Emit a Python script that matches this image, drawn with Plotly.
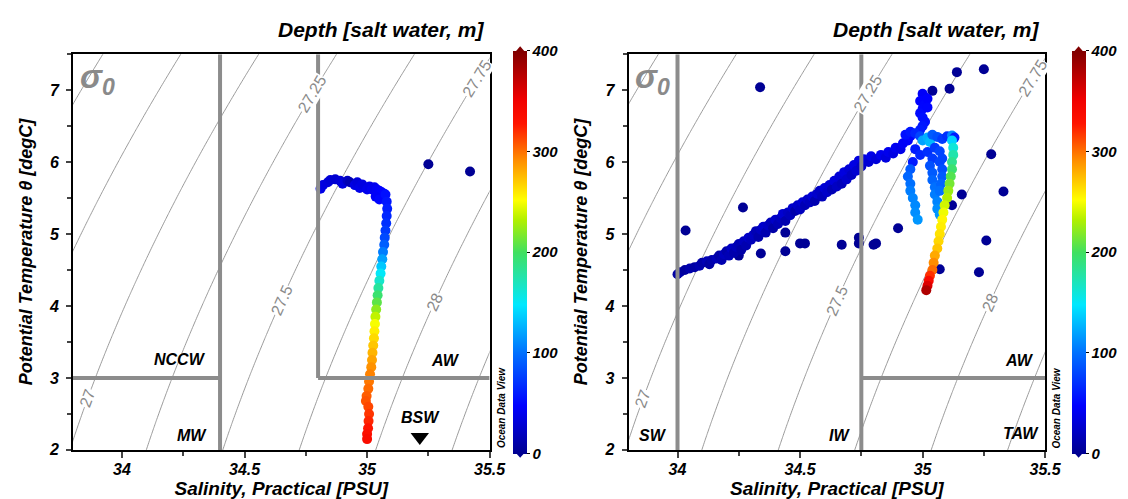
import numpy as np
import plotly.graph_objects as go

FONT = "Liberation Sans, Arial, sans-serif"
W, H = 1128, 499

# ---------------- left station: salinity, potential temperature, depth ----------------
left_top_sal = [34.81, 34.82, 34.84, 34.85, 34.87, 34.89, 34.90, 34.92, 34.93, 34.95, 34.96, 34.97,
                34.98, 35.00, 35.01, 35.02, 35.03, 35.04, 35.05, 35.06, 35.07, 35.035, 35.05]
left_top_temp = [5.63, 5.68, 5.72, 5.75, 5.76, 5.74, 5.70, 5.74, 5.72, 5.68, 5.72, 5.64,
                 5.69, 5.62, 5.66, 5.62, 5.65, 5.62, 5.60, 5.58, 5.56, 5.52, 5.48]
left_top_depth = [38, 35, 33, 30, 28, 30, 34, 22, 15, 36, 32, 38,
                  35, 40, 38, 42, 40, 44, 46, 48, 50, 45, 50]

left_prof_sal = [35.075, 35.08, 35.082, 35.08, 35.078, 35.075, 35.072, 35.07, 35.065, 35.062,
                 35.058, 35.055, 35.05, 35.046, 35.043, 35.04, 35.037, 35.034, 35.032, 35.03,
                 35.028, 35.025, 35.022, 35.02, 35.017, 35.012, 35.008, 35.005, 34.998, 34.995,
                 35.005, 35.008, 35.006, 35.004, 35.0, 35.0]
left_prof_temp = [5.55, 5.45, 5.35, 5.25, 5.15, 5.05, 4.95, 4.85, 4.75, 4.65,
                  4.55, 4.45, 4.35, 4.25, 4.15, 4.05, 3.95, 3.85, 3.75, 3.65,
                  3.55, 3.45, 3.35, 3.25, 3.15, 3.05, 2.95, 2.85, 2.75, 2.68,
                  2.60, 2.50, 2.40, 2.30, 2.22, 2.15]
left_prof_depth = [55, 58, 62, 66, 70, 75, 82, 92, 105, 120,
                   135, 150, 165, 180, 195, 208, 222, 236, 250, 258,
                   265, 272, 278, 284, 290, 295, 298, 302, 306, 309,
                   313, 318, 323, 328, 333, 338]

left_out_sal = [35.25, 35.42]
left_out_temp = [5.97, 5.87]
left_out_depth = [2, 2]

# ---------------- right station ----------------
right_band_sal = [34.00, 34.01, 34.03, 34.05, 34.07, 34.09, 34.10, 34.12, 34.13, 34.14, 34.16, 34.17,
                  34.18, 34.19, 34.20, 34.21, 34.22, 34.23, 34.24, 34.25, 34.26, 34.27, 34.28, 34.29,
                  34.30, 34.31, 34.32, 34.33, 34.34, 34.35, 34.36, 34.37, 34.38, 34.39, 34.40, 34.41,
                  34.42, 34.43, 34.44, 34.45, 34.46, 34.47, 34.48, 34.49, 34.50, 34.51, 34.52, 34.53,
                  34.54, 34.55, 34.56, 34.57, 34.58, 34.59, 34.60, 34.61, 34.62, 34.63, 34.64, 34.65,
                  34.66, 34.67, 34.68, 34.69, 34.70, 34.71, 34.72, 34.73, 34.74, 34.75, 34.76, 34.78,
                  34.79, 34.81, 34.83, 34.85, 34.86, 34.88, 34.89, 34.91, 34.92, 34.94, 34.95]
right_band_temp = [4.44, 4.47, 4.50, 4.52, 4.54, 4.56, 4.60, 4.62, 4.58, 4.64, 4.66, 4.70,
                   4.64, 4.72, 4.76, 4.70, 4.80, 4.74, 4.82, 4.86, 4.78, 4.90, 4.84, 4.95,
                   4.92, 4.99, 5.04, 4.96, 5.06, 5.10, 5.02, 5.12, 5.16, 5.08, 5.20, 5.14,
                   5.22, 5.28, 5.18, 5.30, 5.26, 5.36, 5.32, 5.40, 5.34, 5.44, 5.40, 5.48,
                   5.44, 5.52, 5.46, 5.56, 5.60, 5.52, 5.64, 5.58, 5.68, 5.62, 5.74, 5.66,
                   5.80, 5.70, 5.86, 5.76, 5.90, 5.82, 5.96, 5.88, 6.02, 5.94, 6.04, 6.00,
                   6.08, 6.04, 6.10, 6.06, 6.14, 6.12, 6.20, 6.18, 6.26, 6.30, 6.36]
right_band_depth = [8, 10, 6, 12, 9, 14, 10, 16, 8, 12, 18, 10,
                    14, 20, 12, 16, 22, 12, 18, 15, 10, 20, 14, 24,
                    18, 22, 16, 12, 20, 26, 14, 22, 18, 10, 24, 16,
                    20, 28, 14, 22, 18, 26, 12, 24, 20, 28, 16, 24,
                    20, 30, 14, 26, 22, 18, 30, 24, 28, 16, 32, 22,
                    30, 18, 34, 26, 30, 22, 36, 28, 34, 24, 36, 30,
                    38, 32, 40, 34, 40, 36, 42, 38, 44, 46, 50]

right_stick_sal = [35.00, 35.01, 34.99, 35.01, 35.00, 34.99, 35.00, 35.01, 35.00, 34.99, 35.02, 35.02,
                   34.93, 34.95, 34.97, 34.99, 35.00, 35.02, 35.03, 35.04, 35.06, 35.08, 35.10, 35.12, 35.13,
                   34.97, 34.99, 35.02, 35.05, 35.07, 35.08, 35.04, 34.96,
                   34.95, 34.94, 34.95, 34.95, 34.96, 34.97, 34.97, 34.98,
                   35.03, 35.04, 35.04, 35.05, 35.05, 35.06, 35.06, 35.07,
                   35.07, 35.08, 35.08, 35.075, 35.07]
right_stick_temp = [6.95, 6.90, 6.85, 6.80, 6.74, 6.68, 6.62, 6.56, 6.50, 6.45, 6.88, 6.76,
                    6.38, 6.42, 6.40, 6.36, 6.30, 6.34, 6.28, 6.38, 6.35, 6.32, 6.36, 6.37, 6.34,
                    6.18, 6.10, 6.14, 6.20, 6.15, 6.05, 6.05, 6.00,
                    5.90, 5.80, 5.70, 5.60, 5.50, 5.40, 5.30, 5.20,
                    5.95, 5.85, 5.75, 5.65, 5.55, 5.45, 5.35, 5.27,
                    6.00, 5.90, 5.80, 5.70, 5.60]
right_stick_depth = [45, 45, 48, 50, 50, 52, 55, 55, 58, 60, 48, 50,
                     55, 58, 65, 80, 120, 125, 130, 90, 85, 75, 70, 110, 60,
                     60, 65, 70, 75, 80, 80, 75, 60,
                     90, 95, 100, 105, 108, 110, 112, 115,
                     85, 90, 95, 100, 105, 108, 112, 115,
                     80, 85, 90, 95, 100]

right_deep_sal = [35.12, 35.125, 35.125, 35.12, 35.12, 35.115, 35.11, 35.105, 35.10, 35.09, 35.085, 35.08,
                  35.075, 35.07, 35.065, 35.06, 35.05, 35.045, 35.04, 35.03, 35.025, 35.02, 35.015]
right_deep_temp = [6.30, 6.20, 6.10, 6.00, 5.90, 5.80, 5.70, 5.60, 5.50, 5.40, 5.30, 5.20,
                   5.10, 5.00, 4.90, 4.80, 4.70, 4.60, 4.50, 4.42, 4.35, 4.28, 4.22]
right_deep_depth = [140, 160, 175, 185, 195, 205, 215, 225, 232, 240, 248, 255,
                    258, 262, 266, 272, 282, 292, 302, 320, 340, 360, 380]

right_out_sal = [34.337, 34.033, 34.267, 34.44, 34.34, 34.25, 34.44, 34.50, 34.52, 34.67, 34.74, 34.74,
                 34.80, 34.81, 34.90, 35.04, 35.11, 35.14, 35.25, 35.28, 35.33, 35.16, 35.12, 35.26,
                 35.07, 35.23]
right_out_temp = [7.04, 5.05, 5.37, 5.02, 4.73, 4.70, 4.76, 4.87, 4.87, 4.85, 4.95, 4.87,
                  4.85, 4.87, 5.08, 6.99, 7.02, 7.25, 7.29, 6.11, 5.59, 5.55, 5.40, 4.91,
                  4.51, 4.47]
right_out_depth = [2] * 26

# water mass boundaries (salinity / temperature)
left_sal_walls = [34.4, 34.8]
right_sal_walls = [34.0, 34.75]
temp_wall = 3.0

left_masses = ["NCCW", "MW", "AW", "BSW"]
left_mass_pos = [(34.238, 3.25), (34.286, 2.20), (35.319, 3.24), (35.219, 2.45)]
right_masses = ["SW", "IW", "AW", "TAW"]
right_mass_pos = [(33.90, 2.20), (34.66, 2.20), (35.396, 3.24), (35.40, 2.23)]

contour_levels = [27.0, 27.25, 27.5, 27.75, 28.0]
label_temps = [2.71, 6.95, 4.08, 7.16, 4.05]

x_range = [33.8, 35.5]
y_range = [2.0, 7.5]
depth_ticks = [0, 100, 200, 300, 400]


def sigma0(s, t):
    # UNESCO 1980 equation of state at the surface
    rw = (999.842594 + 6.793952e-2 * t - 9.095290e-3 * t**2 + 1.001685e-4 * t**3
          - 1.120083e-6 * t**4 + 6.536332e-9 * t**5)
    a = 0.824493 - 4.0899e-3 * t + 7.6438e-5 * t**2 - 8.2467e-7 * t**3 + 5.3875e-9 * t**4
    b = -5.72466e-3 + 1.0227e-4 * t - 1.6546e-6 * t**2
    return rw + a * s + b * s**1.5 + 4.8314e-4 * s**2 - 1000.0


def sal_on_level(level, t):
    lo, hi = 30.0, 38.0
    for _ in range(60):
        mid = 0.5 * (lo + hi)
        if sigma0(mid, t) < level:
            lo = mid
        else:
            hi = mid
    return 0.5 * (lo + hi)


# pixel layout
frames = [(66, 489), (630, 1053)]
top_px, bot_px = 47, 450
bar_x = [513, 1080]
bar_w = 14


def px(x):
    return x / W


def py(y):
    return 1 - y / H


odv = [[0.0, "#000090"], [0.12, "#0000ff"], [0.25, "#0070ff"], [0.37, "#00e8ff"],
       [0.5, "#40e060"], [0.58, "#b0f000"], [0.63, "#ffff00"], [0.73, "#ff8c00"],
       [0.82, "#ff1400"], [0.88, "#f00000"], [1.0, "#800000"]]

s_grid = np.arange(33.7, 35.61, 0.01)
t_grid = np.arange(1.9, 7.61, 0.05)
SS, TT = np.meshgrid(s_grid, t_grid)
sig = sigma0(SS, TT)

fig = go.Figure()

panels = [
    (left_top_sal + left_prof_sal + left_out_sal,
     left_top_temp + left_prof_temp + left_out_temp,
     left_top_depth + left_prof_depth + left_out_depth),
    (right_out_sal + right_band_sal + right_stick_sal + right_deep_sal,
     right_out_temp + right_band_temp + right_stick_temp + right_deep_temp,
     right_out_depth + right_band_depth + right_stick_depth + right_deep_depth),
]

annotations = []
shapes = []
tick_font = dict(family=FONT, size=16, color="black", weight="bold", style="italic")
title_font = dict(family=FONT, size=19, color="black", weight="bold", style="italic")

for i, (sal, temp, depth) in enumerate(panels):
    xa = "x" if i == 0 else "x2"
    ya = "y" if i == 0 else "y2"
    ca = "coloraxis" if i == 0 else "coloraxis2"

    fig.add_trace(go.Contour(
        x=s_grid, y=t_grid, z=sig, xaxis=xa, yaxis=ya,
        contours=dict(start=26.0, end=28.75, size=0.25, coloring="lines", showlabels=False),
        colorscale=[[0, "#8f8f8f"], [1, "#8f8f8f"]], line=dict(width=0.9),
        showscale=False, hoverinfo="skip"))

    fig.add_trace(go.Scatter(
        x=sal, y=temp, xaxis=xa, yaxis=ya, mode="markers",
        marker=dict(size=10, color=depth, coloraxis=ca, line=dict(width=0)),
        showlegend=False))

    # contour labels sitting on the computed isopycnals
    px_per_s = (frames[i][1] - frames[i][0]) / (x_range[1] - x_range[0])
    px_per_t = (bot_px - top_px) / (y_range[1] - y_range[0])
    for lev, tl in zip(contour_levels, label_temps):
        sl = sal_on_level(lev, tl)
        ds = sal_on_level(lev, tl + 0.1) - sl
        ang = np.degrees(np.arctan2(0.1 * px_per_t, ds * px_per_s))
        annotations.append(dict(
            x=sl, y=tl, xref=xa, yref=ya, text=f"{lev:g}", showarrow=False,
            textangle=-ang, bgcolor="white", borderpad=0,
            font=dict(family=FONT, size=16, color="#8a8a8a")))

    # sigma-0 sign
    annotations.append(dict(
        x=33.82, y=7.47, xref=xa, yref=ya, xanchor="left", yanchor="top",
        text="σ<sub>0</sub>", showarrow=False,
        font=dict(family=FONT, size=33, color="#8a8a8a", weight="bold", style="italic")))

    # water masses
    names = left_masses if i == 0 else right_masses
    pos = left_mass_pos if i == 0 else right_mass_pos
    for name, (sx, ty) in zip(names, pos):
        annotations.append(dict(
            x=sx, y=ty, xref=xa, yref=ya, text=name, showarrow=False,
            font=dict(family=FONT, size=16, color="black", weight="bold", style="italic")))

    # colorbar title
    annotations.append(dict(
        x=px(frames[i][1] - 4), y=py(22), xref="paper", yref="paper",
        xanchor="right", yanchor="middle",
        text="Depth [salt water, m]", showarrow=False,
        font=dict(family=FONT, size=21, color="black", weight="bold", style="italic")))
    annotations.append(dict(
        x=px(frames[i][1] + 12), y=py(407), xref="paper", yref="paper",
        xanchor="center", yanchor="middle",
        text="Ocean Data View", textangle=-90, showarrow=False,
        font=dict(family=FONT, size=10, color="black", weight="bold", style="italic")))

    # boundaries
    gray = dict(color="#8c8c8c", width=4)
    if i == 0:
        shapes += [
            dict(type="line", xref=xa, yref=ya, x0=left_sal_walls[0], x1=left_sal_walls[0],
                 y0=y_range[0], y1=y_range[1], line=gray),
            dict(type="line", xref=xa, yref=ya, x0=left_sal_walls[1], x1=left_sal_walls[1],
                 y0=temp_wall, y1=y_range[1], line=gray),
            dict(type="line", xref=xa, yref=ya, x0=x_range[0], x1=left_sal_walls[0],
                 y0=temp_wall, y1=temp_wall, line=gray),
            dict(type="line", xref=xa, yref=ya, x0=left_sal_walls[1], x1=x_range[1],
                 y0=temp_wall, y1=temp_wall, line=gray),
        ]
    else:
        shapes += [
            dict(type="line", xref=xa, yref=ya, x0=right_sal_walls[0], x1=right_sal_walls[0],
                 y0=y_range[0], y1=y_range[1], line=gray),
            dict(type="line", xref=xa, yref=ya, x0=right_sal_walls[1], x1=right_sal_walls[1],
                 y0=y_range[0], y1=y_range[1], line=gray),
            dict(type="line", xref=xa, yref=ya, x0=right_sal_walls[1], x1=x_range[1],
                 y0=temp_wall, y1=temp_wall, line=gray),
        ]

    # colorbar end arrows
    bx0, bx1 = bar_x[i], bar_x[i] + bar_w
    bm = 0.5 * (bx0 + bx1)
    shapes.append(dict(type="path", xref="paper", yref="paper", line=dict(width=0),
                       fillcolor="#800000",
                       path=f"M {px(bx0)},{py(top_px)} L {px(bx1)},{py(top_px)} L {px(bm)},{py(top_px - 8)} Z"))
    shapes.append(dict(type="path", xref="paper", yref="paper", line=dict(width=0),
                       fillcolor="#000090",
                       path=f"M {px(bx0)},{py(bot_px)} L {px(bx1)},{py(bot_px)} L {px(bm)},{py(bot_px + 8)} Z"))

# BSW arrow
fig.add_trace(go.Scatter(x=[35.215], y=[2.18], mode="markers", xaxis="x", yaxis="y",
                         marker=dict(symbol="triangle-down", size=16, color="black"),
                         showlegend=False, hoverinfo="skip"))


def axis_x(i):
    return dict(domain=[px(frames[i][0]), px(frames[i][1])], range=x_range,
                tick0=34, dtick=0.5, ticks="outside", ticklen=6, tickwidth=1.5,
                minor=dict(ticks="outside", dtick=0.25, tick0=34, ticklen=4),
                showgrid=False, zeroline=False, showline=True, linecolor="black",
                linewidth=2, mirror=True, tickfont=tick_font, ticklabelstandoff=-2,
                title=dict(text="Salinity, Practical [PSU]", font=title_font, standoff=3),
                anchor="y" if i == 0 else "y2")


def axis_y(i):
    return dict(domain=[py(bot_px), py(top_px)], range=y_range,
                tick0=2, dtick=1, ticks="outside", ticklen=5, tickwidth=1.5,
                minor=dict(ticks="outside", dtick=0.5, tick0=2, ticklen=4),
                showgrid=False, zeroline=False, showline=True, linecolor="black",
                linewidth=2, mirror=True, tickfont=tick_font, ticklabelstandoff=4,
                title=dict(text="Potential Temperature θ [degC]",
                           font=dict(family=FONT, size=18, color="black", weight="bold",
                                     style="italic"), standoff=12),
                anchor="x" if i == 0 else "x2")


def cbar(i):
    return dict(cmin=0, cmax=400, colorscale=odv,
                colorbar=dict(x=px(bar_x[i]), xanchor="left", xpad=0, ypad=0,
                              y=py(0.5 * (top_px + bot_px)), yanchor="middle",
                              thickness=bar_w, thicknessmode="pixels",
                              len=bot_px - top_px, lenmode="pixels",
                              outlinewidth=0, tickvals=depth_ticks, ticks="outside",
                              ticklen=3, tickcolor="black",
                              tickfont=dict(family=FONT, size=15, color="black",
                                            weight="bold", style="italic")))


fig.update_layout(
    width=W, height=H, margin=dict(l=0, r=0, t=0, b=0),
    paper_bgcolor="white", plot_bgcolor="white", showlegend=False,
    xaxis=axis_x(0), yaxis=axis_y(0), xaxis2=axis_x(1), yaxis2=axis_y(1),
    coloraxis=cbar(0), coloraxis2=cbar(1),
    annotations=annotations, shapes=shapes)

fig.write_html("out.html")
